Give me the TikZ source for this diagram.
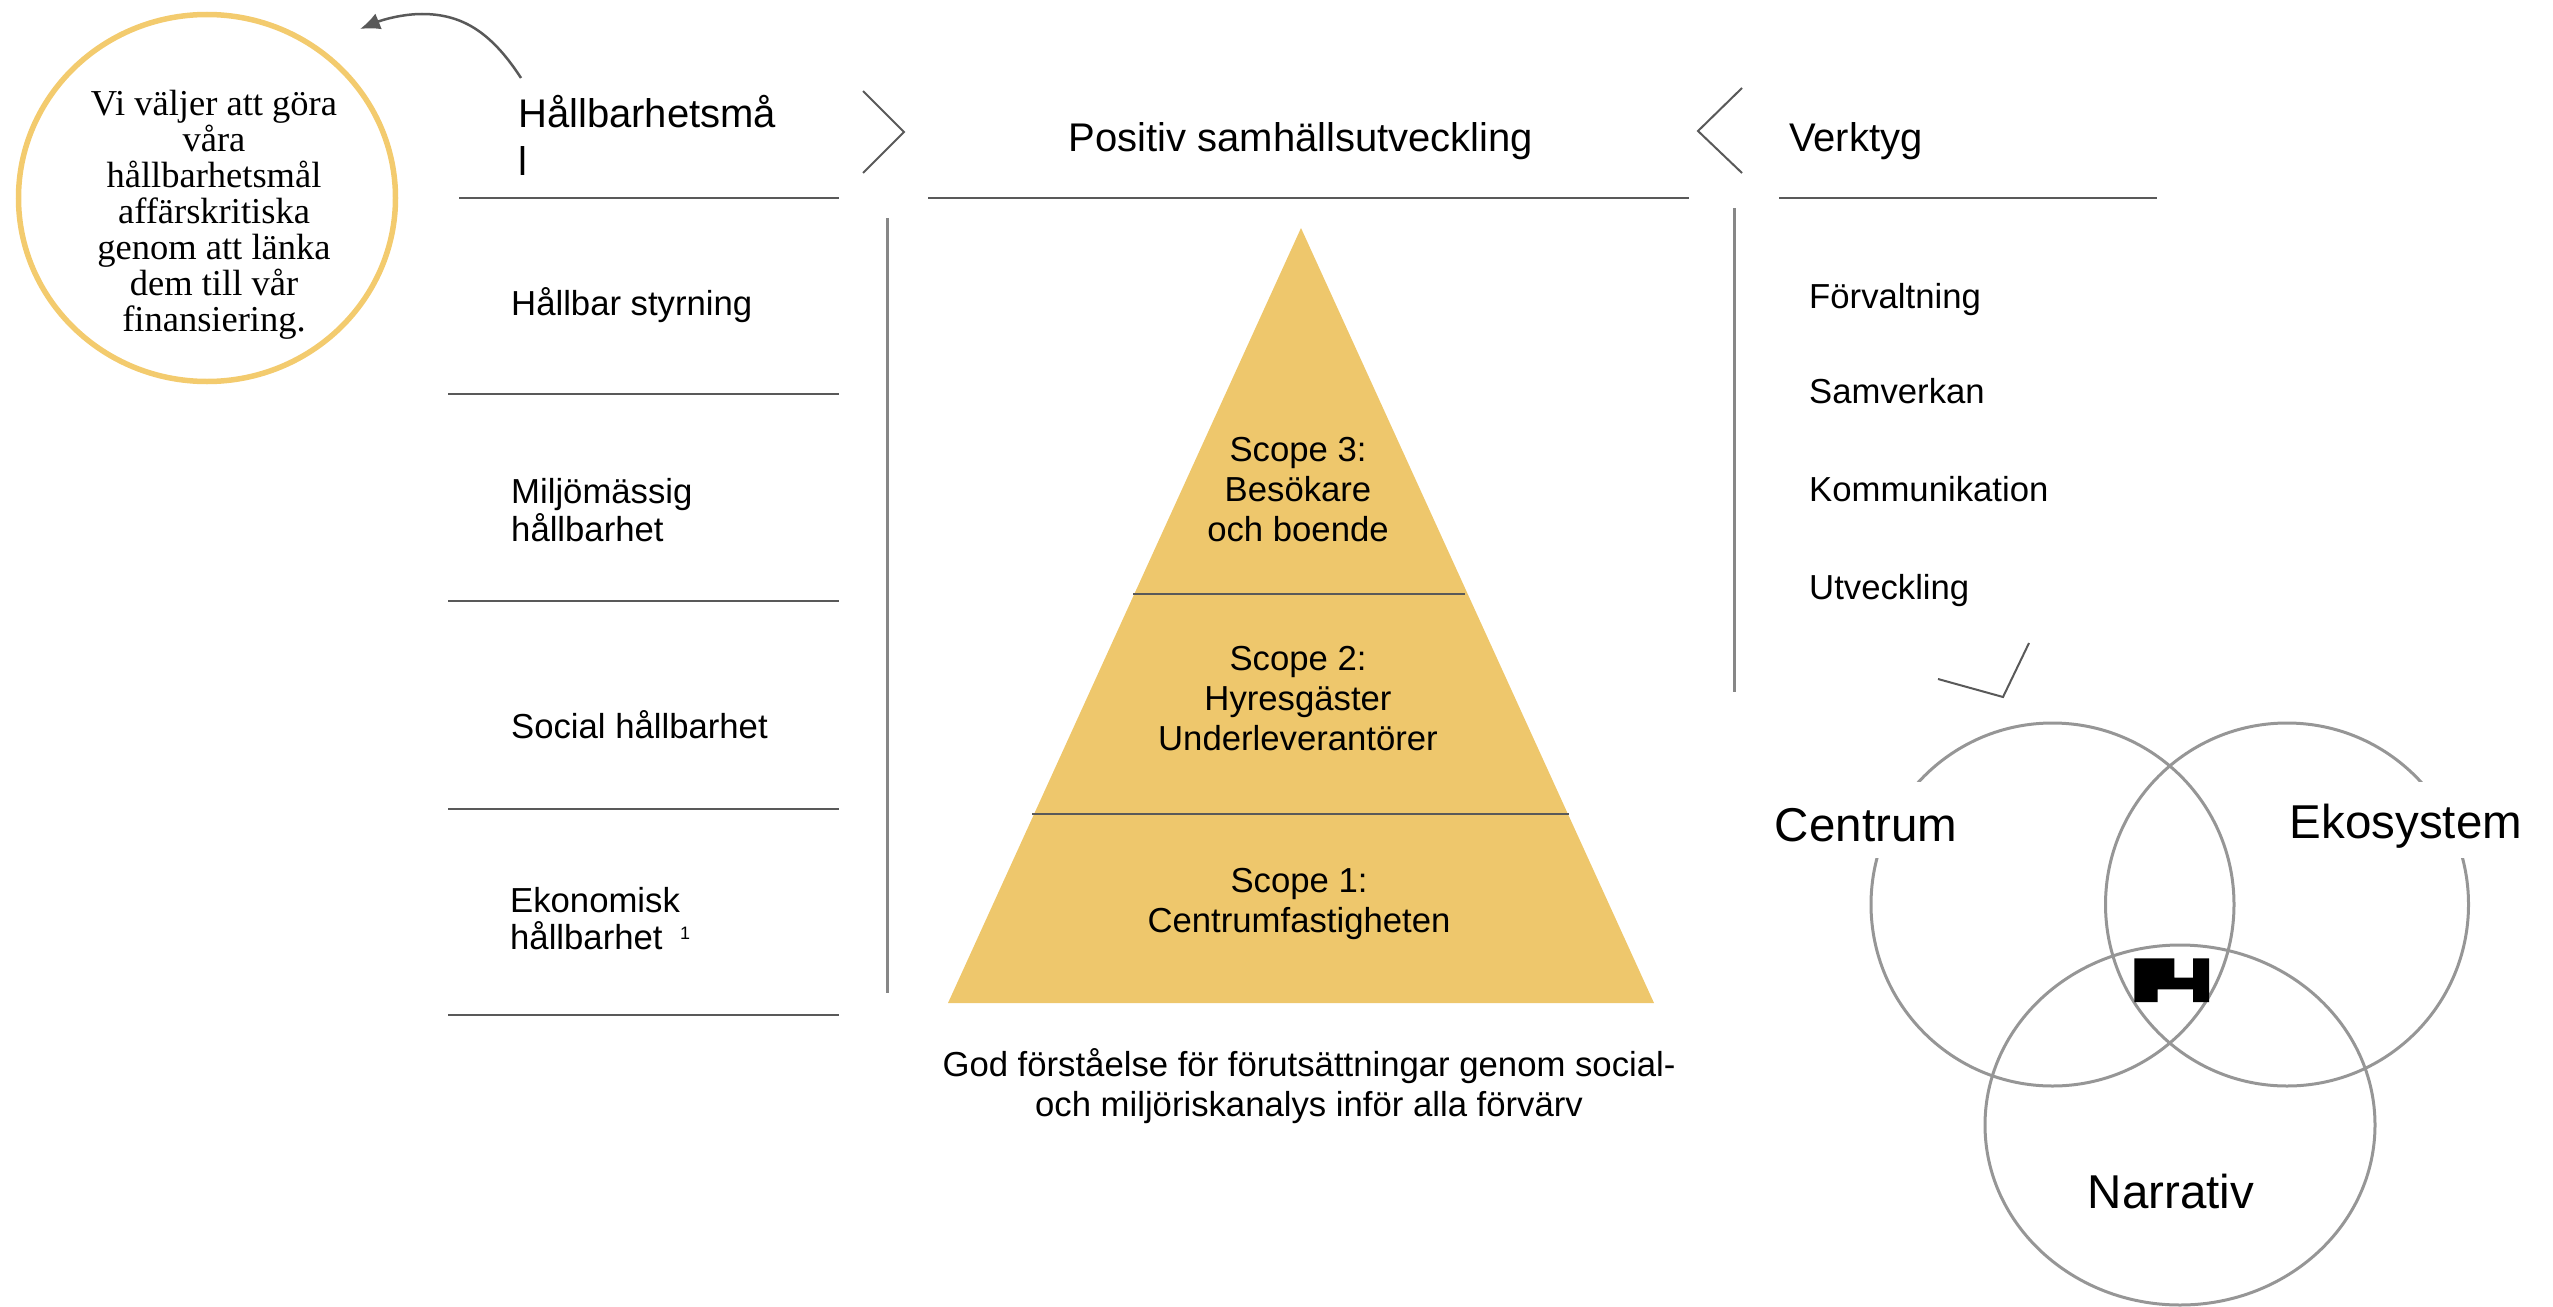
\documentclass[tikz,border=0pt]{standalone}
\usepackage{fontspec}
\setmainfont{Liberation Sans}
\newfontfamily\serifcirc{Liberation Serif}
\usetikzlibrary{arrows.meta,shapes.geometric}
\definecolor{goldc}{HTML}{EEC76C}
\definecolor{ringc}{HTML}{F3CB6E}
\definecolor{rulec}{HTML}{595959}
\definecolor{vennc}{HTML}{969696}
\tikzset{
  lab/.style={inner sep=0pt,anchor=base west,align=left,font={\fontsize{34.7}{37.5}\selectfont}},
  mid/.style={inner sep=0pt,anchor=base,align=center,font={\fontsize{34.7}{40}\selectfont}},
  head/.style={inner sep=0pt,anchor=base west,align=left,font={\fontsize{40}{48}\selectfont}},
  venn/.style={inner sep=0pt,anchor=base,font={\fontsize{47.5}{50}\selectfont}},
  rulel/.style={draw=rulec,line width=2.6pt},
  thin chev/.style={draw=rulec,line width=2pt},
  vert/.style={draw=vennc!90!black,line width=3pt},
  vring/.style={draw=vennc,line width=3pt},
  mask/.style={fill=white,inner sep=0pt}
}
\begin{document}
\begin{tikzpicture}[x=1pt,y=-1pt]
\useasboundingbox (0,0) rectangle (2553,1306);
\clip (0,0) rectangle (2553,1306);
% goal circle
\node[ellipse,draw=ringc,line width=5.5pt,minimum width=377pt,minimum height=367pt,inner sep=0pt] (goal) at (207,198) {};
\node[inner sep=0pt,anchor=base,align=center,font={\serifcirc\fontsize{36.5}{36}\selectfont}] (goaltext) at (214,331) {Vi väljer att göra\\våra\\hållbarhetsmål\\affärskritiska\\genom att länka\\dem till vår\\finansiering.};
% arrow
\coordinate (arrstart) at (521,78);
\coordinate (arrtop) at (422,14);
\coordinate (arrend) at (360,29);
\draw[rulec,line width=2.5pt,-{Latex[length=20pt,width=17pt]}] (arrstart) .. controls (490,30) and (460,14) .. (arrtop) .. controls (402,14) and (382,20) .. (arrend);
% headers
\node[head] (h1) at (518,175.5) {Hållbarhetsmå\\l};
\node[head,anchor=base] (h2) at (1301,151) {Positiv samhällsutveckling};
\node[head] (h3) at (1789,151) {Verktyg};
% chevrons
\coordinate (c1a) at (863,91); \coordinate (c1b) at (904,132); \coordinate (c1c) at (863,173);
\draw[thin chev] (c1a) -- (c1b) -- (c1c);
\coordinate (c2a) at (1742,88); \coordinate (c2b) at (1698,131); \coordinate (c2c) at (1742,173);
\draw[thin chev] (c2a) -- (c2b) -- (c2c);
\coordinate (c3a) at (1938,679); \coordinate (c3b) at (2003,697); \coordinate (c3c) at (2029,643);
\draw[thin chev] (c3a) -- (c3b) -- (c3c);
% header rules
\draw[rulel] (459,198) -- (839,198);
\draw[rulel] (928,198) -- (1689,198);
\draw[rulel] (1779,198) -- (2157,198);
% left rows
\draw[rulel] (448,394) -- (839,394);
\draw[rulel] (448,601) -- (839,601);
\draw[rulel] (448,809) -- (839,809);
\draw[rulel] (448,1015) -- (839,1015);
\node[lab] (l1) at (511,315) {Hållbar styrning};
\node[lab] (l2) at (511,541) {Miljömässig\\hållbarhet};
\node[lab] (l3) at (511,738) {Social hållbarhet};
\node[lab] (l4) at (510,949.5) {Ekonomisk\\hållbarhet};
\node[inner sep=0pt,anchor=base,font={\fontsize{18}{20}\selectfont}] (fn) at (685,939) {1};
% vertical lines
\draw[vert] (887,218) -- (887,993);
\draw[vert] (1734,208) -- (1734,692);
% pyramid
\fill[goldc] (1301,228) -- (1654,1003) -- (948,1003) -- cycle;
\draw[rulel] (1133,594) -- (1465,594);
\draw[rulel] (1032,814) -- (1569,814);
\node[mid] (s3) at (1298,541) {Scope 3:\\Besökare\\och boende};
\node[mid] (s2) at (1298,750) {Scope 2:\\Hyresgäster\\Underleverantörer};
\node[mid] (s1) at (1299,932) {Scope 1:\\Centrumfastigheten};
\node[mid] (cap) at (1309,1116) {God förståelse för förutsättningar genom social-\\och miljöriskanalys inför alla förvärv};
% right list
\node[lab] (r1) at (1809,308) {Förvaltning};
\node[lab] (r2) at (1809,403.5) {Samverkan};
\node[lab] (r3) at (1809,501.5) {Kommunikation};
\node[lab] (r4) at (1809,599.5) {Utveckling};
% venn
\draw[vring] (2052.5,904.5) circle (181.5);
\draw[vring] (2287,904.5) circle (181.5);
\draw[vring] (2180,1125) ellipse [x radius=195,y radius=180];
\node[mask,minimum width=200pt,minimum height=76pt] (centmask) at (1860,820) {};
\node[mask,minimum width=250pt,minimum height=76pt] (ekomask) at (2405,820) {};
\node[venn] (vc) at (1866,841) {Centrum};
\node[venn] (ve) at (2406,838) {Ekosystem};
\node[venn] (vn) at (2171,1208) {Narrativ};
% logo
\fill[black] (2134.3,958.3) -- (2174.3,958.3) -- (2174.3,977.7) -- (2193,977.7) -- (2193,958.3) -- (2209,958.3) -- (2209,1002) -- (2193,1002) -- (2193,989.3) -- (2157.7,989.3) -- (2157.7,1002) -- (2134.3,1002) -- cycle;
\end{tikzpicture}
\end{document}
